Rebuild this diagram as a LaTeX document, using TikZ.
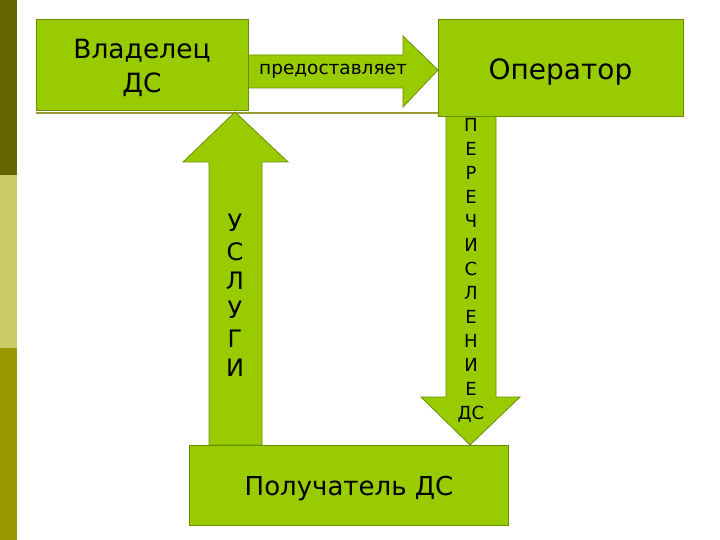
\documentclass[tikz,border=0pt]{standalone}
\usepackage{fontspec}
\setmainfont{DejaVu Sans}
\definecolor{boxfill}{HTML}{99CC00}
\definecolor{boxline}{HTML}{6B8E00}
\definecolor{stripeA}{HTML}{666600}
\definecolor{stripeB}{HTML}{CCCC66}
\definecolor{stripeC}{HTML}{999900}
\definecolor{rulecol}{HTML}{999933}
\begin{document}
\begin{tikzpicture}[x=1pt,y=-1pt,
  box/.style={draw=boxline, fill=boxfill, line width=1pt, inner sep=0pt, align=center, text=black},
  arrowshape/.style={draw=boxline, fill=boxfill, line width=0.8pt, line join=miter},
  lbl/.style={inner sep=0pt, align=center, text=black}]
\useasboundingbox (0,0) rectangle (720,540);
\fill[white] (0,0) rectangle (720,540);
\fill[stripeA] (0,0) rectangle (17,175);
\fill[stripeB] (0,175) rectangle (17,348);
\fill[stripeC] (0,348) rectangle (17,540);
% rule line
\coordinate (ruleL) at (36,113);
\coordinate (ruleR) at (445,113);
\draw[rulecol, line width=1.5pt] (ruleL) -- (ruleR);
% block arrows
\draw[arrowshape] (248,55) -- (403,55) -- (403,36) -- (438,70) -- (403,107) -- (403,88) -- (248,88) -- cycle;
\draw[arrowshape] (209,445) -- (209,162) -- (183,162) -- (235,112) -- (288,162) -- (262,162) -- (262,445) -- cycle;
\draw[arrowshape] (446,110) -- (446,397) -- (421,397) -- (470,445) -- (520,397) -- (496,397) -- (496,110) -- cycle;
% boxes
\node[box, minimum width=212pt, minimum height=91pt] (owner) at (142,65.5) {};
\node[lbl, font=\fontsize{26.5}{34}\selectfont] (ownertext) at (142,68) {Владелец\\ДС};
\node[box, minimum width=245pt, minimum height=97pt] (operator) at (560.5,68.5) {};
\node[lbl, font=\fontsize{28}{33}\selectfont] (operatortext) at (560.5,72) {Оператор};
\node[box, minimum width=319pt, minimum height=80pt] (recipient) at (348.5,485) {};
\node[lbl, font=\fontsize{26}{31}\selectfont] (recipienttext) at (349,489) {Получатель ДС};
% labels
\node[lbl, font=\fontsize{18.5}{22}\selectfont] (provides) at (333,71) {предоставляет};
\node[lbl, font=\fontsize{24}{29}\selectfont] (services) at (235,295.5) {У\\С\\Л\\У\\Г\\И};
\node[lbl, font=\fontsize{18}{24}\selectfont] (transfer) at (471,270) {П\\Е\\Р\\Е\\Ч\\И\\С\\Л\\Е\\Н\\И\\Е\\ДС};
\end{tikzpicture}
\end{document}
